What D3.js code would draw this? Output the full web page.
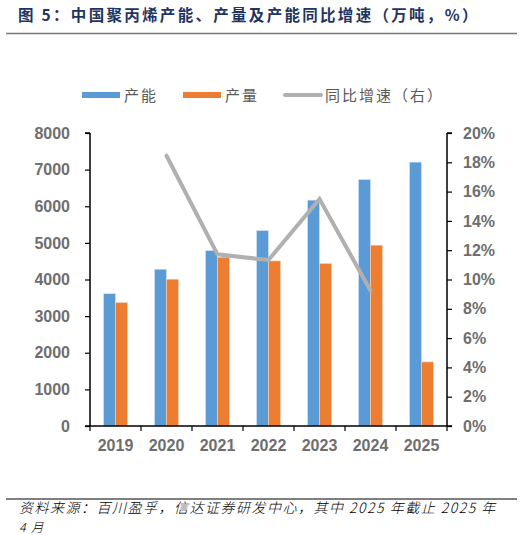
<!DOCTYPE html>
<html>
<head>
<meta charset="utf-8">
<script src="https://cdn.jsdelivr.net/npm/d3@7"></script>
<style>
  body { margin: 0; background: #fff; }
  svg { display: block; }
  .tick-label { font-family: "Liberation Sans", Arial, sans-serif; font-weight: bold; font-size: 16px; fill: #6e6e6e; }
  .cjk { font-family: "Noto Sans CJK SC", sans-serif; }
</style>
</head>
<body>
<svg id="chart"></svg>
<script>
const years = ["2019", "2020", "2021", "2022", "2023", "2024", "2025"];
const capacity = [3615, 4281, 4790, 5336, 6167, 6730, 7205];
const output = [3369, 4008, 4609, 4508, 4435, 4937, 1749];
const growthYears = ["2020", "2021", "2022", "2023", "2024"];
const growth = [18.45, 11.72, 11.33, 15.5, 9.24];
const leftTicks = [0, 1000, 2000, 3000, 4000, 5000, 6000, 7000, 8000];
const rightTicks = [0, 2, 4, 6, 8, 10, 12, 14, 16, 18, 20];

const chartSize = {width: 528, height: 535};
const plot = {left: 90, right: 447, top: 133, bottom: 426};

const svg = d3.select("#chart")
  .attr("width", chartSize.width)
  .attr("height", chartSize.height);

// title
svg.append("text")
  .attr("class", "cjk")
  .attr("x", 18).attr("y", 21)
  .attr("font-size", 15.5).attr("font-weight", "bold")
  .attr("letter-spacing", 2.3)
  .attr("fill", "#1f3560")
  .text("图 5：中国聚丙烯产能、产量及产能同比增速（万吨，%）");

svg.append("line")
  .attr("x1", 6).attr("x2", 517).attr("y1", 33.5).attr("y2", 33.5)
  .attr("stroke", "#777").attr("stroke-width", 1.5);

// scales
const x = d3.scaleBand().domain(years).range([plot.left, plot.right]);
const inner = d3.scaleBand().domain(["cap", "out"]).range([0, 24]);
const y = d3.scaleLinear().domain([0, 8000]).range([plot.bottom, plot.top]);
const y2 = d3.scaleLinear().domain([0, 20]).range([plot.bottom, plot.top]);

// bars
const groups = svg.append("g").selectAll("g")
  .data(years)
  .join("g")
  .attr("transform", d => `translate(${x(d) + x.bandwidth() / 2 - 12},0)`);

groups.append("rect")
  .attr("x", inner("cap"))
  .attr("width", inner.bandwidth())
  .attr("y", (d, i) => y(capacity[i]))
  .attr("height", (d, i) => y(0) - y(capacity[i]))
  .attr("fill", "#5b9bd5")
  .attr("stroke", "#d6e6f5").attr("stroke-width", 0.6);

groups.append("rect")
  .attr("x", inner("out"))
  .attr("width", inner.bandwidth())
  .attr("y", (d, i) => y(output[i]))
  .attr("height", (d, i) => y(0) - y(output[i]))
  .attr("fill", "#ed7d31")
  .attr("stroke", "#f8d2b8").attr("stroke-width", 0.6);

// growth line
const line = d3.line()
  .x((d, i) => x(growthYears[i]) + x.bandwidth() / 2)
  .y(d => y2(d));

svg.append("path")
  .datum(growth)
  .attr("d", line)
  .attr("fill", "none")
  .attr("stroke", "#b0b0b0")
  .attr("stroke-width", 4)
  .attr("stroke-linecap", "round")
  .attr("stroke-linejoin", "miter");

// axes
const leftAxis = svg.append("g")
  .attr("transform", `translate(${plot.left},0)`)
  .call(d3.axisLeft(y).tickValues(leftTicks).tickSize(5).tickPadding(15).tickFormat(d3.format("d")));

const rightAxis = svg.append("g")
  .attr("transform", `translate(${plot.right},0)`)
  .call(d3.axisRight(y2).tickValues(rightTicks).tickSize(5).tickPadding(11).tickFormat(d => d + "%"));

const bottomAxis = svg.append("g")
  .attr("transform", `translate(0,${plot.bottom})`)
  .call(d3.axisBottom(x).tickSize(0).tickPadding(14));

// x ticks at category boundaries
svg.append("g").selectAll("line")
  .data(d3.range(years.length + 1))
  .join("line")
  .attr("x1", i => plot.left + i * x.step())
  .attr("x2", i => plot.left + i * x.step())
  .attr("y1", plot.bottom).attr("y2", plot.bottom + 5)
  .attr("stroke", "#000").attr("stroke-width", 1.2);

[leftAxis, rightAxis, bottomAxis].forEach(a => {
  a.select(".domain").attr("stroke", "#000").attr("stroke-width", 1.5);
  a.selectAll(".tick line").attr("stroke", "#000").attr("stroke-width", 1.2);
  a.selectAll(".tick text").attr("class", "tick-label").attr("font-size", null).attr("font-family", null);
});
leftAxis.select(".domain").attr("d", `M0,${plot.top}H-5M0,${plot.top}V${plot.bottom}`);
rightAxis.select(".domain").attr("d", `M0,${plot.top}H5M0,${plot.top}V${plot.bottom}`);
bottomAxis.select(".domain").attr("d", `M${plot.left - 5},0H${plot.right + 5}`);

// legend
const legend = svg.append("g").attr("class", "cjk");
const legendItems = [
  {label: "产能", color: "#5b9bd5", x: 82, type: "rect"},
  {label: "产量", color: "#ed7d31", x: 183, type: "rect"},
  {label: "同比增速（右）", color: "#b0b0b0", x: 283, type: "line"}
];
legendItems.forEach(d => {
  if (d.type === "rect") {
    legend.append("rect")
      .attr("x", d.x).attr("y", 92).attr("width", 38).attr("height", 6)
      .attr("fill", d.color);
  } else {
    legend.append("line")
      .attr("x1", d.x + 2).attr("x2", d.x + 38).attr("y1", 95).attr("y2", 95)
      .attr("stroke", d.color).attr("stroke-width", 4).attr("stroke-linecap", "round");
  }
  legend.append("text")
    .attr("x", d.x + 42).attr("y", 101)
    .attr("font-size", 15).attr("fill", "#595959")
    .attr("letter-spacing", 2)
    .text(d.label);
});

// footer
svg.append("line")
  .attr("x1", 6).attr("x2", 517).attr("y1", 499).attr("y2", 499)
  .attr("stroke", "#000").attr("stroke-width", 1);

svg.append("text")
  .attr("class", "cjk")
  .attr("x", 19).attr("y", 513)
  .attr("font-size", 14).attr("font-style", "italic").attr("font-weight", 300)
  .attr("letter-spacing", 1.5)
  .attr("fill", "#000")
  .text("资料来源：百川盈孚，信达证券研发中心，其中 2025 年截止 2025 年");

svg.append("text")
  .attr("class", "cjk")
  .attr("x", 19).attr("y", 532)
  .attr("font-size", 12.5).attr("font-style", "italic").attr("font-weight", 300)
  .attr("letter-spacing", 1.3)
  .attr("fill", "#000")
  .text("4 月");
</script>
</body>
</html>
